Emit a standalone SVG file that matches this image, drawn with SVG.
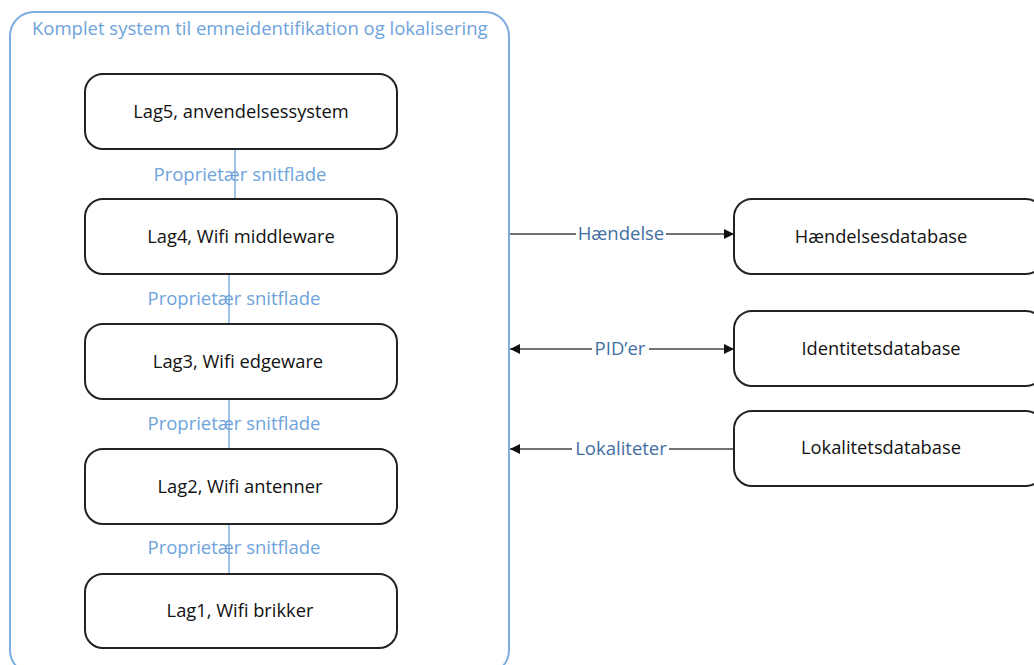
<svg xmlns="http://www.w3.org/2000/svg" width="1034" height="665" viewBox="0 0 1034 665">
  <style>
    .frame { fill: none; stroke: #7eaee0; stroke-width: 2; }
    .node { fill: #ffffff; stroke: #222222; stroke-width: 2; }
    .node-text { font-family: "Open Sans", "Liberation Sans", sans-serif; font-size: 18.3px; fill: #111111; text-anchor: middle; }
    .title { font-family: "Open Sans", "Liberation Sans", sans-serif; font-size: 18.5px; fill: #6ea3dc; }
    .iface { stroke: #7eaee0; stroke-width: 1.5; }
    .iface-text { font-family: "Open Sans", "Liberation Sans", sans-serif; font-size: 18.5px; fill: #6ea3dc; text-anchor: middle; }
    .flow { stroke: #444444; stroke-width: 1.5; fill: none; }
    .flow-text { font-family: "Open Sans", "Liberation Sans", sans-serif; font-size: 18.5px; fill: #3f6fa3; text-anchor: middle; }
    .label-bg { fill: #ffffff; }
  </style>
  <defs>
    <marker id="arrow" viewBox="0 0 10 10" refX="10" refY="5" markerWidth="10" markerHeight="10" markerUnits="userSpaceOnUse" orient="auto-start-reverse">
      <path d="M0,0 L10,5 L0,10 Z" fill="#111111"/>
    </marker>
  </defs>
  <rect width="1034" height="665" fill="#ffffff"/>

  <!-- system container -->
  <g id="system">
    <rect class="frame" x="10" y="12" width="499" height="662" rx="24"/>
    <text class="title" x="32" y="35">Komplet system til emneidentifikation og lokalisering</text>
  </g>

  <!-- interfaces between layers and data flows -->
  <g id="connectors">
    <line class="iface" x1="235" y1="149" x2="235" y2="199"/>
    <line class="iface" x1="229" y1="274" x2="229" y2="324"/>
    <line class="iface" x1="229" y1="399" x2="229" y2="449"/>
    <line class="iface" x1="229" y1="524" x2="229" y2="574"/>
    <text class="iface-text" x="240" y="181">Proprietær snitflade</text>
    <text class="iface-text" x="234" y="305">Proprietær snitflade</text>
    <text class="iface-text" x="234" y="430">Proprietær snitflade</text>
    <text class="iface-text" x="234" y="554">Proprietær snitflade</text>

    <line class="flow" x1="510" y1="234" x2="734" y2="234" marker-end="url(#arrow)"/>
    <line class="flow" x1="510" y1="349" x2="734" y2="349" marker-start="url(#arrow)" marker-end="url(#arrow)"/>
    <line class="flow" x1="734" y1="449" x2="510" y2="449" marker-end="url(#arrow)"/>
    <rect class="label-bg" x="576" y="224" width="90" height="20"/>
    <rect class="label-bg" x="592" y="339" width="57" height="20"/>
    <rect class="label-bg" x="572" y="439" width="97" height="20"/>
    <text class="flow-text" x="621" y="240">Hændelse</text>
    <text class="flow-text" x="620" y="355">PID’er</text>
    <text class="flow-text" x="621" y="455">Lokaliteter</text>
  </g>

  <g id="lag5">
    <rect class="node" x="85" y="74" width="312" height="75" rx="18"/>
    <text class="node-text" x="241" y="118">Lag5, anvendelsessystem</text>
  </g>
  <g id="lag4">
    <rect class="node" x="85" y="199" width="312" height="75" rx="18"/>
    <text class="node-text" x="241" y="243">Lag4, Wifi middleware</text>
  </g>
  <g id="lag3">
    <rect class="node" x="85" y="324" width="312" height="75" rx="18"/>
    <text class="node-text" x="238" y="368">Lag3, Wifi edgeware</text>
  </g>
  <g id="lag2">
    <rect class="node" x="85" y="449" width="312" height="75" rx="18"/>
    <text class="node-text" x="240" y="493">Lag2, Wifi antenner</text>
  </g>
  <g id="lag1">
    <rect class="node" x="85" y="574" width="312" height="74" rx="18"/>
    <text class="node-text" x="240" y="617">Lag1, Wifi brikker</text>
  </g>

  <g id="haendelsesdatabase">
    <rect class="node" x="734" y="199" width="310" height="75" rx="18"/>
    <text class="node-text" x="881" y="243">Hændelsesdatabase</text>
  </g>
  <g id="identitetsdatabase">
    <rect class="node" x="734" y="311" width="310" height="75" rx="18"/>
    <text class="node-text" x="881" y="355">Identitetsdatabase</text>
  </g>
  <g id="lokalitetsdatabase">
    <rect class="node" x="734" y="411" width="310" height="75" rx="18"/>
    <text class="node-text" x="881" y="454">Lokalitetsdatabase</text>
  </g>
</svg>
